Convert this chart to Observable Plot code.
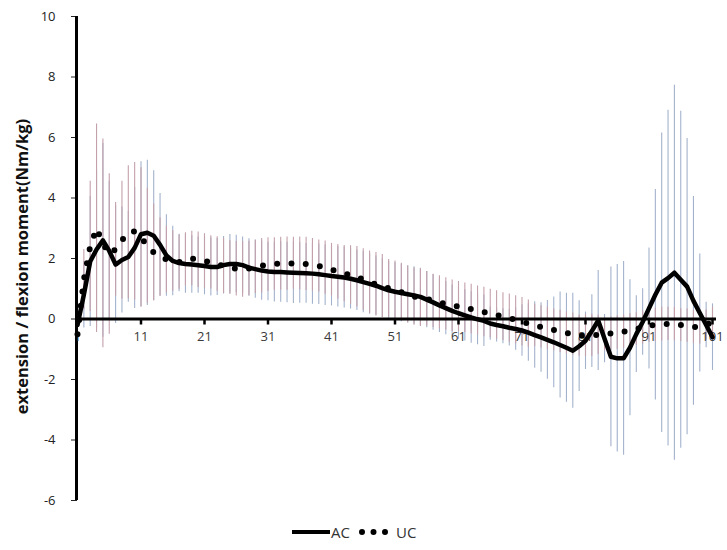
<!DOCTYPE html>
<html>
<head>
<meta charset="utf-8">
<script src="https://cdn.jsdelivr.net/npm/d3@7"></script>
<script src="https://cdn.jsdelivr.net/npm/@observablehq/plot@0.6"></script>
<style>
  body { margin: 0; background: #fff; font-family: "Open Sans", sans-serif; }
  #legend { position: relative; width: 727px; height: 40px; color: #333; font-size: 15px; }
  #legend .item { position: absolute; top: 12px; display: flex; align-items: center; }
</style>
</head>
<body>
<div id="chart"></div>
<div id="legend"></div>
<script>
// ---- data (gait cycle 1..101) ----
const seriesNames = ["AC", "UC"];
const xTickValues = [1, 11, 21, 31, 41, 51, 61, 71, 81, 91, 101];
const yTickValues = [-6, -4, -2, 0, 2, 4, 6, 8, 10];
const yTitle = "extension / flexion moment(Nm/kg)";

const acMean = [
  -0.2, 0.8, 1.9, 2.3, 2.6, 2.25, 1.8, 1.95, 2.05, 2.35,
  2.8, 2.85, 2.75, 2.45, 2.1, 1.92, 1.85, 1.82, 1.8, 1.78,
  1.75, 1.72, 1.72, 1.78, 1.82, 1.82, 1.78, 1.7, 1.65, 1.6,
  1.57, 1.55, 1.55, 1.54, 1.53, 1.52, 1.51, 1.5, 1.48, 1.45,
  1.42, 1.4, 1.37, 1.33, 1.28, 1.22, 1.16, 1.1, 1.02, 0.95,
  0.9, 0.86, 0.82, 0.78, 0.73, 0.64, 0.55, 0.45, 0.36, 0.27,
  0.19, 0.12, 0.05, -0.01, -0.06, -0.15, -0.2, -0.24, -0.29, -0.33,
  -0.38, -0.45, -0.53, -0.61, -0.69, -0.77, -0.86, -0.95, -1.05, -0.9,
  -0.72, -0.4, -0.05, -0.65, -1.25, -1.3, -1.3, -0.95, -0.5, -0.1,
  0.35, 0.8, 1.2, 1.35, 1.53, 1.3, 1.07, 0.6, 0.2, -0.2,
  -0.6
];
const acSd = [
  0.3, 1.1, 2.15, 2.6, 3.2, 2.3, 1.95, 1.75, 1.5, 2.0,
  2.4, 2.4, 2.15, 1.7, 1.35, 1.15, 0.95, 0.97, 0.95, 0.93,
  0.95, 0.96, 0.94, 0.95, 0.97, 0.95, 0.93, 0.95, 0.96, 0.98,
  0.97, 0.99, 1.0, 1.0, 1.02, 1.0, 0.99, 1.01, 1.0, 1.0,
  0.99, 1.0, 1.01, 1.0, 1.0, 1.01, 1.0, 0.98, 0.97, 0.95,
  0.96, 0.95, 0.94, 0.95, 0.95, 0.93, 0.92, 0.9, 0.88, 0.85,
  0.86, 0.85, 0.85, 0.84, 0.85, 0.55, 0.56, 0.58, 0.6, 0.7,
  0.85, 0.95, 1.1, 1.15, 1.3, 1.5, 1.75, 1.8, 1.9, 1.5,
  0.95, 1.2, 1.65, 0.8, 2.97, 3.1, 3.2, 2.25, 1.27, 1.1,
  2.0, 3.48, 4.95, 5.55, 6.2, 5.57, 4.9, 3.45, 1.95, 0.75,
  1.1
];
const ucMean = [
  -0.5, 1.3, 2.4, 3.0, 2.5, 2.15, 2.3, 2.6, 2.87, 2.9,
  2.7, 2.42, 2.2, 2.05, 1.97, 1.92, 1.88, 1.97, 2.0, 1.96,
  1.92, 1.87, 1.82, 1.75, 1.7, 1.66, 1.64, 1.67, 1.72, 1.76,
  1.8, 1.82, 1.83, 1.83, 1.84, 1.84, 1.82, 1.79, 1.75, 1.7,
  1.63, 1.56, 1.5, 1.45, 1.4, 1.3, 1.22, 1.15, 1.09, 1.02,
  0.96, 0.89, 0.81, 0.74, 0.7, 0.67, 0.6, 0.55, 0.5, 0.44,
  0.41, 0.37, 0.33, 0.28, 0.23, 0.18, 0.13, 0.08, 0.03, -0.03,
  -0.09, -0.15, -0.21, -0.26, -0.31, -0.36, -0.41, -0.46, -0.5, -0.55,
  -0.55, -0.54, -0.52, -0.5, -0.48, -0.45, -0.42, -0.38, -0.33, -0.28,
  -0.22, -0.19, -0.17, -0.16, -0.17, -0.2, -0.22, -0.26, -0.28, -0.2,
  -0.1
];
const ucSd = [
  0.35, 1.0, 2.15, 3.45, 3.45, 2.65, 1.55, 1.95, 2.2, 2.27,
  2.3, 1.9, 1.6, 1.3, 1.1, 1.0, 0.9, 0.88, 0.9, 0.92,
  0.9, 0.88, 0.9, 0.91, 0.89, 0.9, 0.92, 0.9, 0.88, 0.9,
  0.89, 0.87, 0.87, 0.88, 0.86, 0.87, 0.88, 0.87, 0.86, 0.88,
  0.87, 0.9, 0.93, 0.97, 1.0, 1.02, 1.03, 1.05, 1.04, 0.95,
  0.96, 0.95, 0.94, 0.95, 0.95, 0.9, 0.88, 0.88, 0.86, 0.85,
  0.83, 0.82, 0.82, 0.81, 0.82, 0.8, 0.8, 0.79, 0.8, 0.8,
  0.8, 0.78, 0.7, 0.7, 0.7, 0.69, 0.7, 0.7, 0.7, 0.68,
  0.7, 0.7, 0.65, 0.55, 0.55, 0.56, 0.55, 0.55, 0.54, 0.55,
  0.55, 0.55, 0.56, 0.55, 0.55, 0.54, 0.55, 0.55, 0.55, 0.5,
  0.5
];

const data = acMean.map((v, i) => ({
  x: i + 1, ac: v, acSd: acSd[i], uc: ucMean[i], ucSd: ucSd[i]
}));

const chart = Plot.plot({
  width: 727,
  height: 510,
  marginLeft: 77,
  marginRight: 15,
  marginTop: 16,
  marginBottom: 10,
  style: { fontFamily: "Open Sans, sans-serif", fontSize: "13px", color: "#222", background: "#fff" },
  x: { domain: [1, 101], axis: null },
  y: { domain: [-6, 10], ticks: yTickValues, tickSize: 6, tickPadding: 16, label: null, tickFormat: d => String(d) },
  marks: [
    // error bars
    Plot.ruleX(data, { x: "x", y1: d => d.ac - d.acSd, y2: d => d.ac + d.acSd, stroke: "#a3b2cc", strokeWidth: 1.1 }),
    Plot.ruleX(data, { x: "x", y1: d => d.uc - d.ucSd, y2: d => d.uc + d.ucSd, stroke: "#c4a0aa", strokeWidth: 1.1 }),
    // axes lines
    Plot.ruleX([1], { stroke: "black", strokeWidth: 3, dx: -1 }),
    Plot.ruleY([0], { stroke: "black", strokeWidth: 3, insetRight: -4 }),
    Plot.ruleX(xTickValues, { x: d => d, y1: 0, y2: 0, insetBottom: -6, stroke: "black", strokeWidth: 2.5 }),
    Plot.text(xTickValues, { x: d => d, y: 0, dy: 18, text: d => String(d), fontSize: 13, fill: "#3a3a3a" }),
    // series
    Plot.line(data, { x: "x", y: "ac", stroke: "black", strokeWidth: 4.5, strokeLinejoin: "round" }),
    Plot.line(data, { x: "x", y: "uc", stroke: "black", strokeWidth: 6, strokeDasharray: "0 14.3", strokeLinecap: "round" }),
    // y title
    Plot.text([yTitle], { frameAnchor: "left", rotate: -90, dx: -55, dy: 8, textAnchor: "middle", text: d => d, fontSize: 16.5, fontWeight: "bold", fill: "#111" })
  ]
});
document.getElementById("chart").appendChild(chart);

// legend
const legend = document.getElementById("legend");
legend.innerHTML = `
  <div class="item" style="left:292px">
    <svg width="38" height="20"><line x1="0" y1="10" x2="38" y2="10" stroke="black" stroke-width="4"/></svg>
    <span style="margin-left:1px">${seriesNames[0]}</span>
  </div>
  <div class="item" style="left:358px">
    <svg width="32" height="20"><line x1="4" y1="10" x2="28" y2="10" stroke="black" stroke-width="6" stroke-linecap="round" stroke-dasharray="0 11.5"/></svg>
    <span style="margin-left:6px">${seriesNames[1]}</span>
  </div>`;
</script>
</body>
</html>
